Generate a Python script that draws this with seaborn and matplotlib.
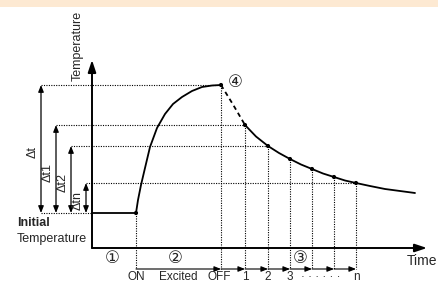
import matplotlib
matplotlib.use("Agg")
import matplotlib.pyplot as plt
import seaborn as sns

# rise while excited (time, temperature)
rise_time = [44, 46, 49, 53, 58, 65, 73, 81, 90, 100, 110, 120, 129]
rise_temp = [35, 48, 63, 80, 101, 120, 134, 144, 151, 157, 161, 162.5, 163]

# first part of the cool-down (dashed)
drop_time = [129, 141, 153]
drop_temp = [163, 143.5, 123]

# cool-down curve
cool_time = [153, 164, 176, 187, 198, 209, 220, 231, 242, 253, 264, 278, 293, 308, 323]
cool_temp = [123, 111.5, 102, 95, 89, 83.5, 79, 74.5, 71, 67.5, 65, 62, 59, 57, 55]

# marked points
on_time, initial_temp = 44, 35
off_time, peak_temp = 129, 163
sample_time = [153, 176, 198, 220, 242, 264]
sample_temp = [123, 102, 89, 79, 71, 65]

# delta arrows: label, top temperature, time reached
delta_labels = ["Δt", "Δt1", "Δt2", "Δtn"]
delta_top = [163, 123, 102, 65]
delta_end = [129, 153, 176, 264]
delta_x = [-51, -36, -21, -6]

time_labels = ["ON", "Excited", "OFF", "1", "2", "3", "· · · · · ·", "n"]
time_label_pos = [44, 86, 127, 153, 176, 198, 229, 264]

sns.set_style("white")
plt.rcParams["font.family"] = ["Liberation Sans", "DejaVu Sans", "Noto Sans CJK JP"]

fig = plt.figure(figsize=(4.39, 2.84), dpi=100)
ax = fig.add_axes([0, 0, 1, 1])
ax.set_xlim(-92, 347)
ax.set_ylim(-36, 248)
ax.axis("off")

# peach band at the top
ax.axhspan(241, 248, color="#fde9d2", lw=0)

dot = dict(color="black", lw=0.8, ls=(0, (1, 1.2)))

# axes with arrows
for tip in [(0, 188), (335, 0)]:
    ax.annotate("", xy=tip, xytext=(0, 0),
                arrowprops=dict(arrowstyle="-|>,head_length=0.6,head_width=0.2",
                                color="black", lw=1.4, mutation_scale=12,
                                shrinkA=0, shrinkB=0))

# curves
ax.plot([0, on_time], [initial_temp, initial_temp], color="black", lw=1.3)
sns.lineplot(x=rise_time, y=rise_temp, ax=ax, color="black", lw=1.3, estimator=None)
sns.lineplot(x=drop_time, y=drop_temp, ax=ax, color="black", lw=1.3,
             linestyle=(0, (2.5, 2)), estimator=None)
sns.lineplot(x=cool_time, y=cool_temp, ax=ax, color="black", lw=1.3, estimator=None)

pt_time = [on_time, off_time] + sample_time
pt_temp = [initial_temp, peak_temp] + sample_temp
sns.scatterplot(x=pt_time, y=pt_temp, ax=ax, color="black", s=9, edgecolor="none", zorder=5)

# dotted guides
row_y = -21
ax.plot([delta_x[0], 0], [initial_temp, initial_temp], **dot)
for t, T in zip(pt_time, pt_temp):
    ax.plot([t, t], [T, row_y], **dot)
for x0, top, end in zip(delta_x, delta_top, delta_end):
    ax.plot([x0, end], [top, top], **dot)

# delta double arrows
for x0, top, lab in zip(delta_x, delta_top, delta_labels):
    ax.annotate("", xy=(x0, top), xytext=(x0, initial_temp),
                arrowprops=dict(arrowstyle="<|-|>,head_length=0.5,head_width=0.2",
                                color="black", lw=0.9, mutation_scale=8,
                                shrinkA=0, shrinkB=0))
    ax.text(x0 - 8, (top + initial_temp) / 2 - 3, lab, rotation=90,
            ha="center", va="center", fontsize=9)

# time row arrows
marks = [on_time, off_time] + sample_time
for a, b in zip(marks[:-1], marks[1:]):
    ax.annotate("", xy=(b, row_y), xytext=(a, row_y),
                arrowprops=dict(arrowstyle="-|>,head_length=0.5,head_width=0.2",
                                color="black", lw=0.8, mutation_scale=8,
                                shrinkA=0, shrinkB=0))

for lab, t in zip(time_labels, time_label_pos):
    ax.text(t, -35.5, lab, ha="center", va="bottom", fontsize=8.5)

# labels
ax.text(-14, 202, "Temperature", rotation=90, ha="center", va="center", fontsize=9)
ax.text(330, -13, "Time", ha="center", va="center", fontsize=10)
ax.text(-75, 25, "Initial", ha="left", va="center", fontsize=9, fontweight="bold")
ax.text(-75, 9, "Temperature", ha="left", va="center", fontsize=9)

for s, (t, T) in zip(["①", "②", "③", "④"], [(20, -10), (83, -10), (208, -10), (143, 166)]):
    ax.text(t, T, s, ha="center", va="center", fontsize=12,
            family=["DejaVu Sans", "Noto Sans CJK JP"])

fig.savefig("out.png", dpi=100)
